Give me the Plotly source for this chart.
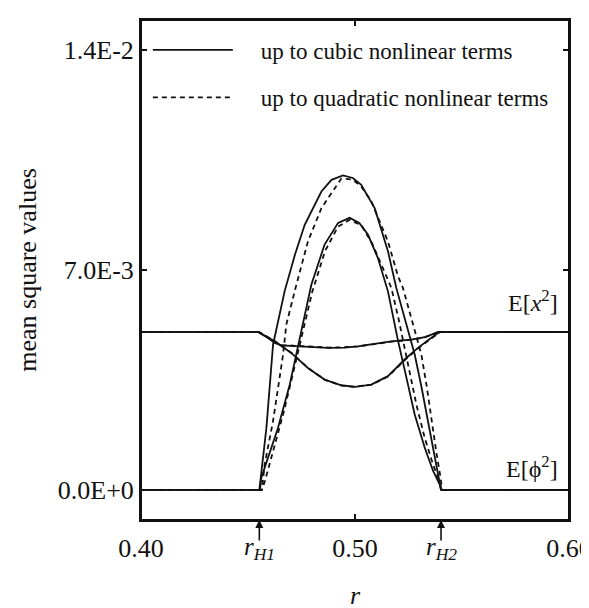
import plotly.graph_objects as go

# ---------------- data ----------------
R_H1 = 0.4553
R_H2 = 0.5402

# E[phi^2], case A (outer hump)
r_phi_a_cubic = [0.400, 0.4553, 0.4586, 0.4617, 0.4671, 0.4720, 0.4765, 0.4843, 0.4890, 0.4944, 0.4990,
                 0.5029, 0.5092, 0.5154, 0.5193, 0.5240, 0.5279, 0.5310, 0.5341, 0.5396, 0.5402, 0.600]
v_phi_a_cubic = [0.0, 0.0, 0.00197, 0.00462, 0.00632, 0.00750, 0.00844, 0.00950, 0.00987, 0.01001, 0.00993,
                 0.00971, 0.00897, 0.00760, 0.00643, 0.00530, 0.00431, 0.00330, 0.00219, 0.00017, 0.0, 0.0]

r_phi_a_quad = [0.400, 0.4565, 0.4578, 0.4617, 0.4664, 0.4679, 0.4718, 0.4780, 0.4843, 0.4936, 0.4990,
                0.5030, 0.5076, 0.5154, 0.5201, 0.5224, 0.5270, 0.5310, 0.5335, 0.5357, 0.5380, 0.5400, 0.5407, 0.600]
v_phi_a_quad = [0.0, 0.0, 0.00081, 0.00219, 0.00431, 0.00526, 0.00632, 0.00791, 0.00897, 0.00991, 0.00988,
                0.00965, 0.00919, 0.00791, 0.00680, 0.00643, 0.00530, 0.00431, 0.00330, 0.00225, 0.00120, 0.00038, 0.0, 0.0]

# E[phi^2], case B (inner hump)
r_phi_b_cubic = [0.400, 0.4556, 0.4562, 0.4640, 0.4695, 0.4734, 0.4796, 0.4858, 0.4921, 0.4975, 0.5020,
                 0.5061, 0.5107, 0.5154, 0.5201, 0.5240, 0.5279, 0.5326, 0.5365, 0.5396, 0.5402, 0.600]
v_phi_b_cubic = [0.0, 0.0, 0.00038, 0.00197, 0.00335, 0.00462, 0.00653, 0.00781, 0.00850, 0.00866, 0.00850,
                 0.00812, 0.00738, 0.00632, 0.00475, 0.00358, 0.00240, 0.00134, 0.00060, 0.00017, 0.0, 0.0]

r_phi_b_quad = [0.400, 0.4565, 0.4580, 0.4617, 0.4664, 0.4710, 0.4750, 0.4800, 0.4860, 0.4920, 0.4975,
                0.5030, 0.5080, 0.5120, 0.5170, 0.5205, 0.5240, 0.5287, 0.5326, 0.5365, 0.5393, 0.5405, 0.600]
v_phi_b_quad = [0.0, 0.0, 0.00030, 0.00120, 0.00240, 0.00370, 0.00490, 0.00630, 0.00760, 0.00838, 0.00860,
                0.00842, 0.00785, 0.00722, 0.00643, 0.00540, 0.00430, 0.00271, 0.00165, 0.00080, 0.00030, 0.0, 0.0]

# E[x^2], case A (shallow dip)
r_x_a_cubic = [0.400, 0.4547, 0.4590, 0.4625, 0.4656, 0.4720, 0.4780, 0.4874, 0.4950, 0.5014, 0.5090,
               0.5170, 0.5263, 0.5326, 0.5360, 0.5388, 0.600]
v_x_a_cubic = [0.00503, 0.00503, 0.00485, 0.00468, 0.00460, 0.00458, 0.00457, 0.00452, 0.00453, 0.00457, 0.00465,
               0.00473, 0.00478, 0.00486, 0.00495, 0.00503, 0.00503]
r_x_a_quad = [0.400, 0.4550, 0.4592, 0.4628, 0.4660, 0.4720, 0.4780, 0.4874, 0.4950, 0.5014, 0.5090,
              0.5170, 0.5263, 0.5328, 0.5362, 0.5392, 0.600]
v_x_a_quad = [0.00503, 0.00503, 0.00486, 0.00469, 0.00461, 0.00459, 0.00457, 0.00453, 0.00454, 0.00457, 0.00464,
              0.00472, 0.00478, 0.00486, 0.00494, 0.00503, 0.00503]

# E[x^2], case B (deep dip)
r_x_b_cubic = [0.400, 0.4547, 0.4625, 0.4702, 0.4780, 0.4858, 0.4936, 0.4999, 0.5076, 0.5154, 0.5232,
               0.5294, 0.5357, 0.5396, 0.600]
v_x_b_cubic = [0.00503, 0.00503, 0.00473, 0.00436, 0.00388, 0.00351, 0.00333, 0.00328, 0.00335, 0.00362, 0.00415,
               0.00452, 0.00484, 0.00503, 0.00503]
r_x_b_quad = [0.400, 0.4550, 0.4628, 0.4705, 0.4782, 0.4860, 0.4938, 0.5000, 0.5078, 0.5156, 0.5234,
              0.5296, 0.5359, 0.5400, 0.600]
v_x_b_quad = [0.00503, 0.00503, 0.00472, 0.00435, 0.00387, 0.00350, 0.00332, 0.00328, 0.00335, 0.00362, 0.00414,
              0.00451, 0.00483, 0.00503, 0.00503]

x_tick_vals = [0.40, 0.50, 0.60]
x_tick_text = ["0.40", "0.50", "0.60"]
y_tick_vals = [0.0, 0.007, 0.014]
y_tick_text = ["0.0E+0", "7.0E-3", "1.4E-2"]

LEG_CUBIC = "up to cubic nonlinear terms"
LEG_QUAD = "up to quadratic nonlinear terms"

# ---------------- figure ----------------
FONT = "Liberation Serif, Times New Roman, serif"
INK = "#111111"
fig = go.Figure()

def add(r, v, dashed, legend_on=False, legend_name=None):
    fig.add_trace(go.Scatter(
        x=r, y=v, mode="lines",
        line=dict(color=INK, width=1.8, dash="5px,4px" if dashed else "solid"),
        name=legend_name if legend_name else ("quad" if dashed else "cubic"),
        showlegend=legend_on,
        legend="legend2" if dashed else "legend",
        hoverinfo="skip",
    ))

add(r_x_a_quad, v_x_a_quad, True)
add(r_x_b_quad, v_x_b_quad, True)
add(r_x_a_cubic, v_x_a_cubic, False)
add(r_x_b_cubic, v_x_b_cubic, False)
add(r_phi_a_quad, v_phi_a_quad, True, True, "\u00a0\u00a0\u00a0\u00a0" + LEG_QUAD)
add(r_phi_b_quad, v_phi_b_quad, True)
add(r_phi_a_cubic, v_phi_a_cubic, False, True, "\u00a0\u00a0\u00a0\u00a0" + LEG_CUBIC)
add(r_phi_b_cubic, v_phi_b_cubic, False)

axis_common = dict(
    showline=True, linewidth=2, linecolor=INK, mirror="ticks",
    ticks="inside", ticklen=6, tickwidth=1.5, tickcolor=INK,
    showgrid=False, zeroline=False, automargin=False,
    tickfont=dict(family=FONT, size=26, color=INK),
)

fig.update_layout(
    width=589, height=608,
    margin=dict(l=133, r=28, t=12, b=96, autoexpand=False),
    paper_bgcolor="white", plot_bgcolor="white",
    font=dict(family=FONT, color=INK),
    xaxis=dict(range=[0.40, 0.60], tickvals=x_tick_vals, ticktext=x_tick_text,
               ticklabelstandoff=4,
               title=dict(text="<i>r</i>", font=dict(family=FONT, size=26, color=INK), standoff=24),
               **axis_common),
    yaxis=dict(range=[-0.00096, 0.01496], tickvals=y_tick_vals, ticktext=y_tick_text,
               ticklabelstandoff=0,
               title=dict(text="mean square values", font=dict(family=FONT, size=26, color=INK), standoff=14),
               **axis_common),
    legend=dict(x=0.016, y=0.94, xanchor="left", yanchor="middle", bgcolor="rgba(0,0,0,0)",
                font=dict(family=FONT, size=23, color=INK), itemwidth=80, borderwidth=0),
    legend2=dict(x=0.016, y=0.845, xanchor="left", yanchor="middle", bgcolor="rgba(0,0,0,0)",
                 font=dict(family=FONT, size=23, color=INK), itemwidth=80, borderwidth=0),
    shapes=[dict(type="rect", xref="paper", yref="paper", x0=0, x1=1, y0=0, y1=1,
                 line=dict(color=INK, width=2), fillcolor="rgba(0,0,0,0)", layer="above")],
)

fig.add_annotation(x=0.6, y=0.0060, xref="x", yref="y", xanchor="right", xshift=-9,
                   text="E[<i>x</i><sup>2</sup>]", showarrow=False,
                   font=dict(family=FONT, size=24, color=INK))
fig.add_annotation(x=0.6, y=0.00072, xref="x", yref="y", xanchor="right", xshift=-9,
                   text="E[\u03d5<sup>2</sup>]", showarrow=False,
                   font=dict(family=FONT, size=24, color=INK))

for rh, lab in [(R_H1, "<i>r</i><sub><i>H1</i></sub>"), (R_H2, "<i>r</i><sub><i>H2</i></sub>")]:
    fig.add_annotation(x=rh, y=0, xref="x", yref="paper", text="", showarrow=True,
                       ax=0, ay=22, arrowhead=2, arrowsize=1, arrowwidth=1.6, arrowcolor=INK)
    fig.add_annotation(x=rh, y=0, xref="x", yref="paper", text=lab, showarrow=False,
                       yanchor="middle", yshift=-28,
                       font=dict(family=FONT, size=25, color=INK))

fig.write_html("out.html")
